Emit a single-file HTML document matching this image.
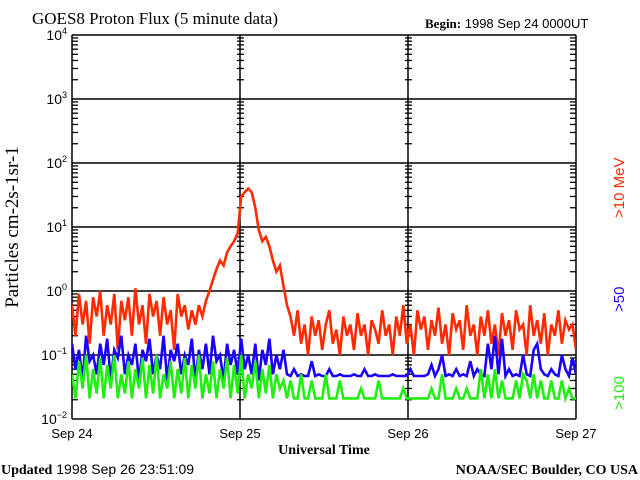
<!DOCTYPE html>
<html><head><meta charset="utf-8"><style>
html,body{margin:0;padding:0;background:#fff;}
svg{display:block;}
</style></head><body>
<svg id="chart" width="640" height="480" viewBox="0 0 640 480" xmlns="http://www.w3.org/2000/svg">
<rect width="640" height="480" fill="#fff"/>
<text x="32" y="24" font-family="Liberation Serif, serif" font-size="17" fill="#000">GOES8 Proton Flux (5 minute data)</text>
<text x="425" y="28" font-family="Liberation Sans, sans-serif" font-size="13" fill="#000"><tspan font-family="Liberation Serif, serif" font-weight="bold">Begin:</tspan> 1998 Sep 24 0000UT</text>
<text transform="translate(18,227) rotate(-90)" text-anchor="middle" font-family="Liberation Serif, serif" font-size="19" fill="#000">Particles cm-2s-1sr-1</text>
<text x="324" y="454" text-anchor="middle" font-family="Liberation Serif, serif" font-weight="bold" font-size="14" fill="#000">Universal Time</text>
<text x="1" y="474" font-family="Liberation Sans, sans-serif" font-size="14" fill="#000"><tspan font-family="Liberation Serif, serif" font-weight="bold">Updated</tspan> 1998 Sep 26 23:51:09</text>
<text x="638" y="474" text-anchor="end" font-family="Liberation Serif, serif" font-weight="bold" font-size="14" fill="#000">NOAA/SEC Boulder, CO USA</text>
<text transform="translate(624,218) rotate(-90)" font-family="Liberation Sans, sans-serif" font-size="15" fill="#ff2a00">&gt;10  MeV</text>
<text transform="translate(624,312) rotate(-90)" font-family="Liberation Sans, sans-serif" font-size="15" fill="#1a00ff">&gt;50</text>
<text transform="translate(624,410) rotate(-90)" font-family="Liberation Sans, sans-serif" font-size="15" fill="#22ee11">&gt;100</text>
<g id="axes"></g>
<g id="series" clip-path="url(#plotclip)"></g>
<defs><clipPath id="plotclip"><rect x="72" y="35" width="504" height="384"/></clipPath></defs>
</svg>
<script>
const dayLabels = ["Sep 24","Sep 25","Sep 26","Sep 27"];
const decadeExps = [-2,-1,0,1,2,3,4];
const red = [0.6,0.2,0.9,0.3,0.7,0.15,0.8,0.4,1.0,0.2,0.6,0.3,0.9,0.12,0.7,0.35,0.8,0.2,1.1,0.3,0.6,0.15,0.9,0.4,0.7,0.2,0.8,0.3,0.5,0.12,0.9,0.4,0.6,0.25,0.5,0.3,0.6,0.4,
0.7,1.0,1.5,2.2,3,2.5,4,5,6,8,30,35,40,35,20,9,6,7,5,3,2,2.5,1.2,0.6,0.4,
0.2,0.5,0.15,0.3,0.1,0.4,0.2,0.35,0.12,0.3,0.5,0.15,0.25,0.1,0.4,0.2,0.3,0.12,0.45,0.2,0.3,0.1,0.35,0.25,0.15,0.5,0.2,0.3,0.1,0.4,
0.2,0.6,0.15,0.3,0.1,0.5,0.25,0.4,0.12,0.35,0.2,0.55,0.15,0.3,0.1,0.45,0.25,0.35,0.12,0.6,0.2,0.3,0.1,0.4,0.2,0.5,0.15,0.3,0.1,0.45,
0.2,0.35,0.12,0.5,0.25,0.3,0.1,0.6,0.2,0.35,0.15,0.45,0.1,0.3,0.2,0.5,0.15,0.35,0.25,0.3,0.12];
const blue = [0.15,0.06,0.12,0.04,0.2,0.08,0.1,0.05,0.15,0.07,0.18,0.04,0.12,0.09,0.2,0.05,0.1,0.07,0.15,0.04,
0.12,0.08,0.18,0.05,0.1,0.06,0.2,0.04,0.12,0.08,0.15,0.05,0.1,0.07,0.18,0.04,0.12,0.06,0.15,0.05,
0.2,0.08,0.1,0.04,0.15,0.07,0.12,0.05,0.18,0.06,0.1,0.05,0.15,0.04,0.12,0.07,0.18,0.05,0.1,0.06,0.12,
0.05,0.047,0.06,0.047,0.05,0.047,0.047,0.08,0.047,0.05,0.047,0.047,0.06,0.047,0.047,0.05,0.047,0.047,0.047,0.05,
0.047,0.047,0.06,0.047,0.047,0.05,0.047,0.047,0.047,0.047,0.05,0.047,0.047,0.047,0.047,0.06,0.047,0.047,0.047,0.047,
0.05,0.07,0.047,0.06,0.1,0.047,0.05,0.047,0.06,0.047,0.05,0.047,0.08,0.047,0.06,0.05,0.047,0.15,0.06,0.2,0.05,0.18,0.047,0.06,0.047,0.05,0.047,0.1,0.05,0.047,0.12,0.15,0.06,0.05,0.047,0.06,0.05,0.047,0.1,0.06,0.047,0.09,0.05];
const green = [0.05,0.021,0.08,0.03,0.1,0.021,0.06,0.025,0.09,0.021,0.07,0.03,0.1,0.021,0.05,0.025,0.08,0.021,0.06,0.03,
0.09,0.021,0.07,0.025,0.1,0.021,0.05,0.03,0.08,0.021,0.06,0.025,0.09,0.021,0.07,0.03,0.1,0.021,0.05,0.025,
0.08,0.021,0.06,0.03,0.09,0.021,0.07,0.025,0.1,0.021,0.05,0.03,0.08,0.021,0.06,0.025,0.07,0.021,0.05,0.03,0.04,
0.021,0.04,0.021,0.021,0.05,0.021,0.021,0.04,0.021,0.021,0.021,0.05,0.021,0.021,0.021,0.04,0.021,0.021,0.021,0.021,
0.021,0.03,0.021,0.021,0.021,0.021,0.04,0.021,0.021,0.021,0.021,0.021,0.021,0.03,0.021,0.021,0.021,0.021,0.021,0.021,
0.021,0.03,0.021,0.021,0.05,0.021,0.021,0.021,0.03,0.021,0.021,0.03,0.021,0.021,0.021,0.06,0.021,0.05,0.021,0.06,
0.021,0.04,0.021,0.021,0.021,0.04,0.021,0.05,0.04,0.021,0.05,0.021,0.04,0.021,0.021,0.04,0.021,0.021,0.04,0.021,0.03,0.021,0.021];

const NS="http://www.w3.org/2000/svg";
const X0=72,X1=576,Y0=35,Y1=419;
function xScale(day){return X0+(X1-X0)*day/3;}
function yScale(v){return Y1-(Math.log10(v)+2)*(Y1-Y0)/6;}
function mk(tag,attrs,parent){const e=document.createElementNS(NS,tag);for(const k in attrs)e.setAttribute(k,attrs[k]);parent.appendChild(e);return e;}
const axes=document.getElementById('axes');
decadeExps.forEach(function(p){
  const y=yScale(Math.pow(10,p));
  const l=mk('line',{x1:X0,x2:X1,y1:y,y2:y,stroke:'#000','stroke-width':1.5},axes);
  
  
  const t=mk('text',{x:67,y:y+5,'text-anchor':'end','font-family':'Liberation Sans, sans-serif','font-size':14,fill:'#000'},axes);
  
  
  t.textContent='10';
  const s=mk('tspan',{dy:-6,'font-size':9},t);
  s.textContent=String(p).replace('-','\u2212');
});
dayLabels.forEach(function(lab,i){
  const x=xScale(i);
  const v=mk('line',{x1:x,x2:x,y1:Y0,y2:Y1,stroke:'#000','stroke-width':1.5},axes);
  
  
  for(let p=-2;p<4;p++){for(let m=2;m<10;m++){
    const y=yScale(m*Math.pow(10,p));
    let xa,xb;
    if(i===0){xa=x;xb=x+6;}else if(i===3){xa=x-6;xb=x;}else{xa=x-3;xb=x+4;}
    const tk=mk('line',{x1:xa,x2:xb,y1:y,y2:y,stroke:'#000','stroke-width':1.3},axes);
    
    
  }}
  const t=mk('text',{x:x,y:438,'text-anchor':'middle','font-family':'Liberation Sans, sans-serif','font-size':13,fill:'#000'},axes);
  
  
  t.textContent=lab;
});
const sg=document.getElementById('series');
function draw(arr,color,name){
  const n=arr.length;
  const pts=arr.map(function(v,i){return xScale(3*i/(n-1)).toFixed(1)+','+yScale(v).toFixed(1);}).join(' ');
  const pl=mk('polyline',{points:pts,fill:'none',stroke:color,'stroke-width':2.6,'stroke-linejoin':'miter'},sg);
  
  
}
draw(red,'#ff2a00','series-gt10-mev');
draw(blue,'#1a00ff','series-gt50-mev');
draw(green,'#22ee11','series-gt100-mev');
</script>
</body></html>
